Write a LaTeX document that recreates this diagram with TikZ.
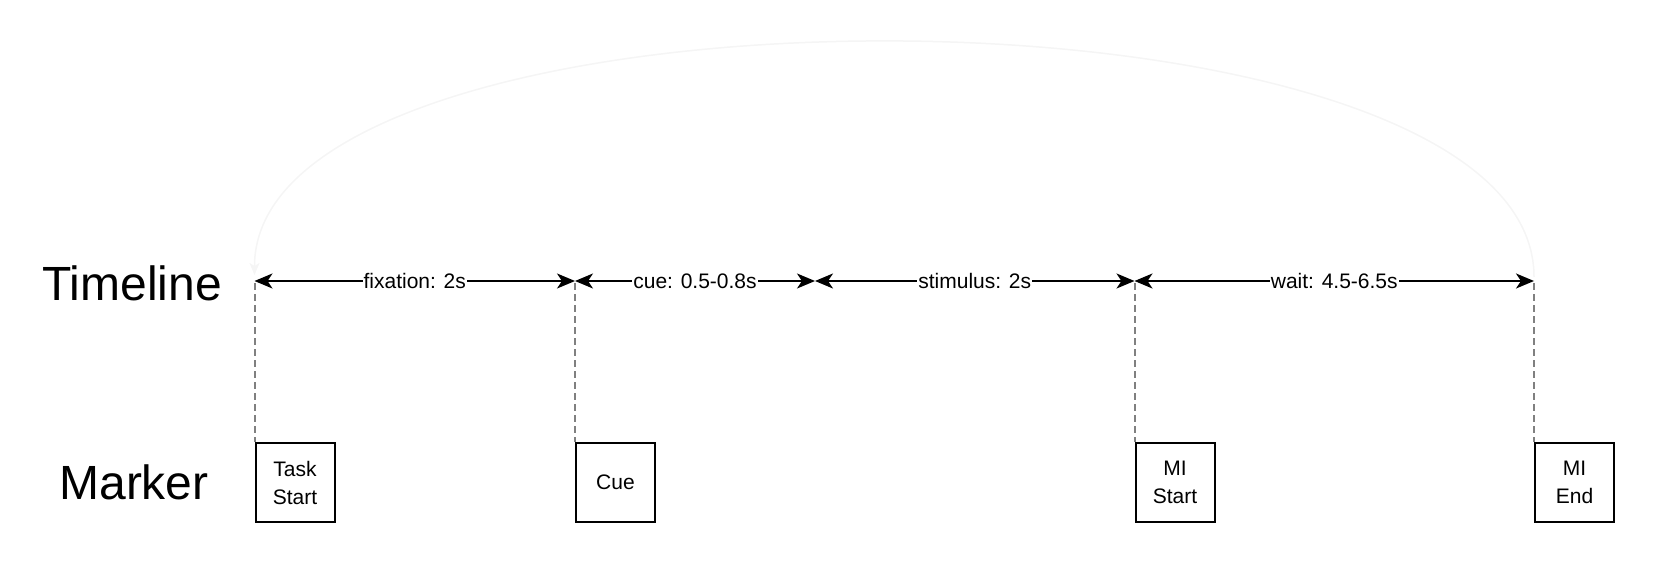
\documentclass[tikz,border=0pt]{standalone}
\usepackage{fontspec}
\setmainfont{Liberation Sans}
\usetikzlibrary{arrows.meta}

\begin{document}
\begin{tikzpicture}[x=1pt,y=-1pt,line width=2pt,
  heading/.style={font=\fontsize{48}{58}\selectfont,inner sep=0pt},
  marker/.style={draw,line width=2pt,minimum width=79pt,minimum height=79pt,inner sep=0pt,anchor=north west,align=center,font=\fontsize{21}{28}\selectfont},
  span/.style={{Stealth[length=18pt,width=15pt,inset=5pt]}-{Stealth[length=18pt,width=15pt,inset=5pt]}},
  lbl/.style={fill=white,inner sep=1pt,font=\fontsize{21}{25}\selectfont},
  tick/.style={gray,line width=2pt,dash pattern=on 7pt off 4pt},
  loop/.style={black!4,line width=1.5pt,-{Stealth[length=12pt,width=10pt,inset=3pt]}}]
\useasboundingbox (0,0) rectangle (1656,564);

\node[heading] (timeline) at (132,283) {Timeline};
\node[heading] (marker) at (134,482) {Marker};

\coordinate (p0) at (254.5,281);
\coordinate (p1) at (575,281);
\coordinate (p2) at (815,281);
\coordinate (p3) at (1134.5,281);
\coordinate (p4) at (1534,281);

\node[marker] (task) at (254.5,442) {Task\\Start};
\node[marker] (cue) at (575,442) {Cue};
\node[marker] (mistart) at (1134.5,442) {MI\\Start};
\node[marker] (miend) at (1534,442) {MI\\End};

\draw[tick] ([yshift=-2pt]p0) -- (task.north west);
\draw[tick] ([yshift=-2pt]p1) -- (cue.north west);
\draw[tick] ([yshift=-2pt]p3) -- (mistart.north west);
\draw[tick] ([yshift=-2pt]p4) -- (miend.north west);

\draw[span] (p0) -- node[lbl] {fixation: 2s} (p1);
\draw[span] (p1) -- node[lbl] {cue: 0.5-0.8s} (p2);
\draw[span] (p2) -- node[lbl] {stimulus: 2s} (p3);
\draw[span] (p3) -- node[lbl] {wait: 4.5-6.5s} (p4);

\draw[loop] ([yshift=4pt]p4) .. controls +(0,-312) and +(0,-312) .. ([yshift=6pt]p0);
\end{tikzpicture}
\end{document}
